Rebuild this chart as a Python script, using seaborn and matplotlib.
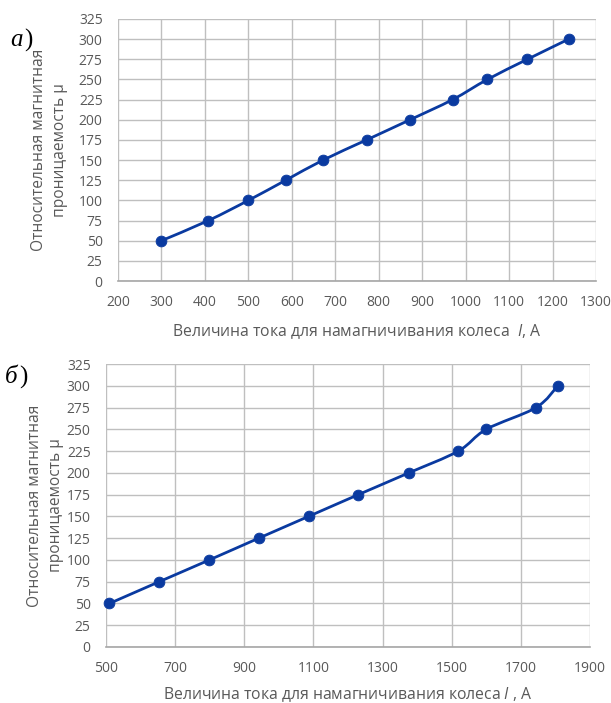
import numpy as np
import matplotlib
matplotlib.use("Agg")
import matplotlib.pyplot as plt
from matplotlib.path import Path
from matplotlib.patches import PathPatch
import seaborn as sns
import pandas as pd

# ---- data ----
mu_values = [50, 75, 100, 125, 150, 175, 200, 225, 250, 275, 300]
current_a = [300, 408, 500, 586, 672, 772, 872, 970, 1050, 1142, 1237]
current_b = [510, 654, 799, 942, 1086, 1230, 1376, 1519, 1600, 1744, 1807]
yticks = [0, 25, 50, 75, 100, 125, 150, 175, 200, 225, 250, 275, 300, 325]
xticks_a = [200, 300, 400, 500, 600, 700, 800, 900, 1000, 1100, 1200, 1300]
xticks_b = [500, 700, 900, 1100, 1300, 1500, 1700, 1900]
panel_labels = ["а", "б"]
ylabel = "Относительная магнитная\nпроницаемость μ"
xlabel_a = "Величина тока для намагничивания колеса  $\\it{I}$, А"
xlabel_b = "Величина тока для намагничивания колеса $\\it{I}$ , А"

sns.set_theme(style="white")
plt.rcParams["font.family"] = ["Open Sans", "DejaVu Sans"]
plt.rcParams["mathtext.fontset"] = "custom"
plt.rcParams["mathtext.it"] = "Open Sans:italic"
plt.rcParams["mathtext.rm"] = "Open Sans"

LINE = "#0a3aa0"
GRID = "#bfbfbf"
TXT = "#595959"

W, H = 611, 703
fig = plt.figure(figsize=(W / 100, H / 100), dpi=100)


def add_ax(x0, y0, x1, y1):
    return fig.add_axes([x0 / W, 1 - y1 / H, (x1 - x0) / W, (y1 - y0) / H])


def smooth_patch(ax, xs, ys):
    pts = np.column_stack([xs, ys]).astype(float)
    n = len(pts)
    verts = [pts[0]]
    codes = [Path.MOVETO]
    for i in range(n - 1):
        p0 = pts[i - 1] if i > 0 else pts[i]
        p1 = pts[i]
        p2 = pts[i + 1]
        p3 = pts[i + 2] if i + 2 < n else pts[i + 1]
        c1 = p1 + (p2 - p0) / 6.0
        c2 = p2 - (p3 - p1) / 6.0
        verts += [c1, c2, p2]
        codes += [Path.CURVE4] * 3
    ax.add_patch(PathPatch(Path(verts, codes), facecolor="none",
                           edgecolor=LINE, lw=2.0, zorder=3,
                           capstyle="round", joinstyle="round"))


def style(ax, xt, xlabel, letter, ax_px, ylab_right_px, xlab_top_px, letter_xy):
    x0, y0, x1, y1 = ax_px
    ax.set_ylim(0, 325)
    ax.set_xlim(xt[0], xt[-1])
    ax.set_xticks(xt)
    ax.set_yticks(yticks)
    ax.grid(True, color=GRID, lw=1.0)
    ax.set_axisbelow(True)
    for s in ["top", "right", "left"]:
        ax.spines[s].set_visible(False)
    ax.spines["bottom"].set_color("#a6a6a6")
    ax.spines["bottom"].set_linewidth(1.2)
    ax.tick_params(axis="y", length=0, labelsize=10, colors=TXT, pad=11)
    ax.tick_params(axis="x", length=0, labelsize=10, colors=TXT, pad=10)
    ax.set_xlabel(xlabel, fontsize=11.3, color=TXT, va="top")
    ax.xaxis.set_label_coords(0.5, -(xlab_top_px - y1) / (y1 - y0))
    ax.set_ylabel(ylabel, fontsize=11.2, color=TXT, linespacing=1.45)
    ax.yaxis.set_label_coords(-(x0 - ylab_right_px) / (x1 - x0), 0.5)
    fig.text(letter_xy[0] / W, 1 - letter_xy[1] / H, letter, fontsize=18,
             family="Liberation Serif", style="italic", color="black",
             ha="left", va="center")
    fig.text((letter_xy[0] + 14) / W, 1 - letter_xy[1] / H, ")", fontsize=18,
             family="Liberation Serif", color="black", ha="left", va="center")


ax1_px = (118, 19, 596, 281)
ax1 = add_ax(*ax1_px)
df_a = pd.DataFrame({"I": current_a, "mu": mu_values})
smooth_patch(ax1, current_a, mu_values)
sns.scatterplot(data=df_a, x="I", y="mu", ax=ax1, color=LINE, s=60,
                edgecolor=LINE, zorder=4, legend=False)
style(ax1, xticks_a, xlabel_a, panel_labels[0], ax1_px, 68, 322, (10, 40))

ax2_px = (106, 364, 590, 647)
ax2 = add_ax(*ax2_px)
df_b = pd.DataFrame({"I": current_b, "mu": mu_values})
smooth_patch(ax2, current_b, mu_values)
sns.scatterplot(data=df_b, x="I", y="mu", ax=ax2, color=LINE, s=60,
                edgecolor=LINE, zorder=4, legend=False, clip_on=False)
style(ax2, xticks_b, xlabel_b, panel_labels[1], ax2_px, 64, 685, (5, 377))

fig.savefig("out.png", dpi=100)
